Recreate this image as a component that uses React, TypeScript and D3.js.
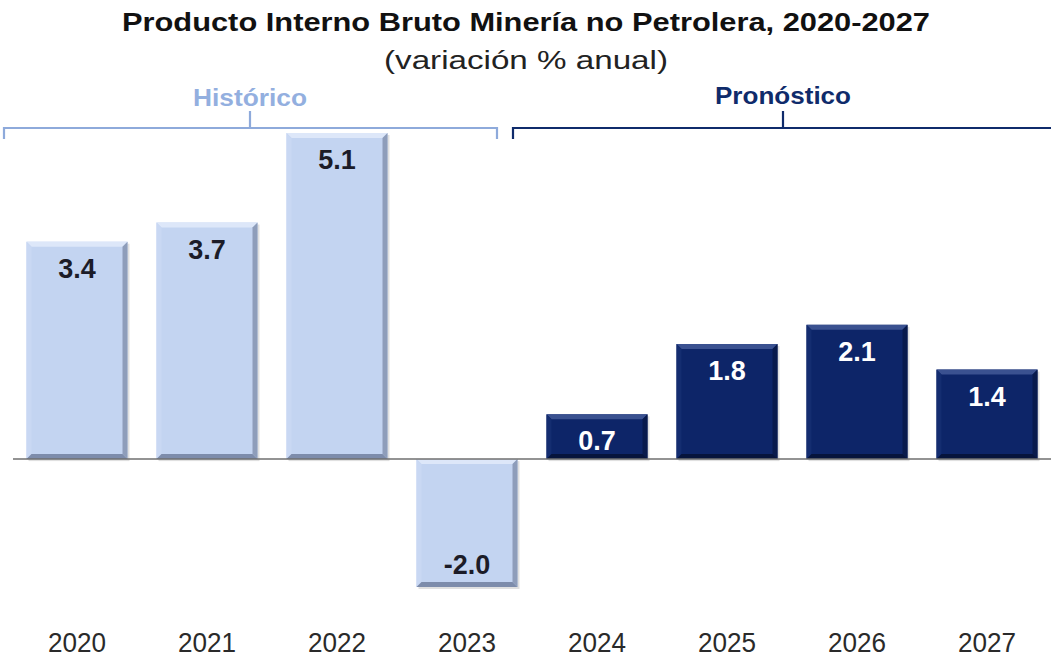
import * as d3 from 'd3';

const years = ['2020', '2021', '2022', '2023', '2024', '2025', '2026', '2027'];
const values = [3.4, 3.7, 5.1, -2.0, 0.7, 1.8, 2.1, 1.4];
const forecast = [false, false, false, false, true, true, true, true];

const W = 1051;
const H = 661;

const light = { fill: '#c3d4f1', top: '#dde7f9', left: '#c9d8f3', right: '#8e9dba', bottom: '#7d8cab', text: '#1c1c28' };
const dark = { fill: '#0d2568', top: '#3a5190', left: '#142d70', right: '#081a4c', bottom: '#06143c', text: '#ffffff' };

function Bar({ x, y0, y1, w, c }) {
  const top = Math.min(y0, y1);
  const bot = Math.max(y0, y1);
  const r = x + w;
  const b = 5;
  return (
    <g>
      <rect x={x + 2} y={top + 2} width={w} height={bot - top} fill="#000" opacity={0.12} />
      <rect x={x} y={top} width={w} height={bot - top} fill={c.fill} />
      <polygon points={`${x},${top} ${r},${top} ${r - b},${top + b} ${x + b},${top + b}`} fill={c.top} />
      <polygon points={`${x},${top} ${x + b},${top + b} ${x + b},${bot - b} ${x},${bot}`} fill={c.left} />
      <polygon points={`${r},${top} ${r},${bot} ${r - b},${bot - b} ${r - b},${top + b}`} fill={c.right} />
      <polygon points={`${x},${bot} ${r},${bot} ${r - b},${bot - b} ${x + b},${bot - b}`} fill={c.bottom} />
    </g>
  );
}

export default function App() {
  const x = d3.scaleBand().domain(years).range([12, 1052]).paddingInner(0.223).paddingOuter(0.1115);
  const y = d3.scaleLinear().domain([-2, 5.1]).range([587, 133]);
  const y0 = y(0);
  const bw = x.bandwidth();

  const histC = 250;
  const fcC = 783;

  return (
    <svg width={W} height={H} style={{ position: 'absolute', left: 0, top: 0, fontFamily: 'Liberation Sans, Arial, sans-serif' }}>
      <rect width={W} height={H} fill="#fff" />
      <text x={526} y={31} textAnchor="middle" fontSize={25} fontWeight="bold" fill="#111" textLength={808} lengthAdjust="spacingAndGlyphs">
        Producto Interno Bruto Minería no Petrolera, 2020-2027
      </text>
      <text x={526} y={69} textAnchor="middle" fontSize={26} fill="#222" textLength={284} lengthAdjust="spacingAndGlyphs">
        (variación % anual)
      </text>

      {/* brackets */}
      <g fill="none" strokeWidth={2.2}>
        <path d={`M4,139 V128 H497 V139 M${histC},128 V111`} stroke="#8eaadb" />
        <path d={`M513,139 V128 H1051 M${fcC},128 V111`} stroke="#0f2b6b" />
      </g>
      <text x={histC} y={106} textAnchor="middle" fontSize={24} fontWeight="bold" fill="#93afdf" textLength={114} lengthAdjust="spacingAndGlyphs">Histórico</text>
      <text x={fcC} y={104} textAnchor="middle" fontSize={24} fontWeight="bold" fill="#0f2b6b" textLength={136} lengthAdjust="spacingAndGlyphs">Pronóstico</text>

      {years.map((yr, i) => {
        const c = forecast[i] ? dark : light;
        const v = values[i];
        const bx = x(yr);
        const ly = v >= 0 ? y(v) + 36 : y(v) - 13;
        return (
          <g key={yr}>
            <Bar x={bx} y0={y0} y1={y(v)} w={bw} c={c} />
            <text x={bx + bw / 2} y={ly} textAnchor="middle" fontSize={27} fontWeight="bold" fill={c.text} fontFamily="Arial, Liberation Sans, sans-serif">
              {v.toFixed(1)}
            </text>
          </g>
        );
      })}

      <line x1={13} x2={W} y1={y0} y2={y0} stroke="#6f6f6f" strokeWidth={1.5} />

      {years.map((yr) => (
        <text key={yr} x={x(yr) + bw / 2} y={652} textAnchor="middle" fontSize={27} fill="#2a2a2a" textLength={58} lengthAdjust="spacingAndGlyphs">
          {yr}
        </text>
      ))}
    </svg>
  );
}
